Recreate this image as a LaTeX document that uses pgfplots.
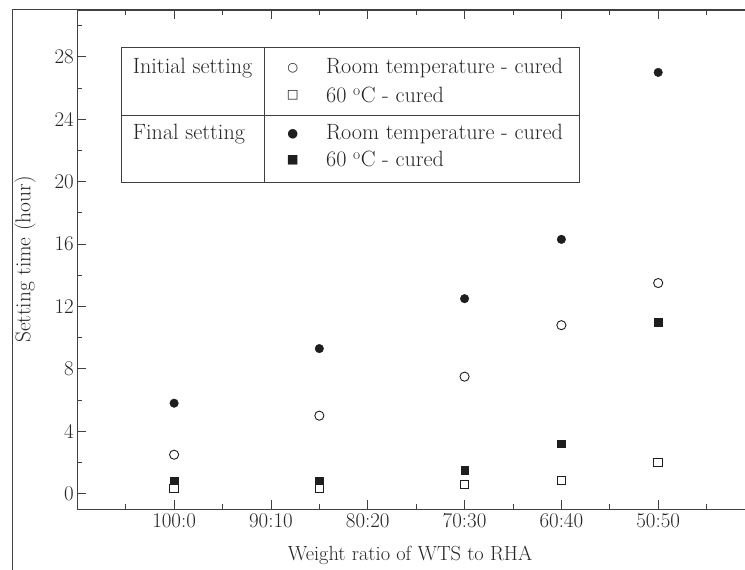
\documentclass[border=0pt]{standalone}
\usepackage{fontspec}
\usepackage{pgfplots}
\pgfplotsset{compat=1.18}
\newfontfamily\symfont{DejaVu Sans}
\definecolor{axisgray}{HTML}{404040}
\definecolor{textgray}{HTML}{262626}
\definecolor{markblack}{HTML}{1E1E1E}
\newcommand\lfont{\fontsize{22.2}{26}\selectfont}
\begin{document}
\begin{tikzpicture}
\useasboundingbox (0,0) rectangle (745bp,570bp);
\clip (0,0) rectangle (745bp,570bp);
\fill[white] (0,0) rectangle (745bp,570bp);
\draw[axisgray, line width=0.8pt] (12bp,0) -- (12bp,561bp) -- (745bp,561bp);
\begin{axis}[
  at={(77.3bp,60.7bp)}, anchor=south west,
  scale only axis, width=677.7bp, height=499.3bp,
  xmin=-10, xmax=60, ymin=-1, ymax=31,
  xtick={0,10,20,30,40,50},
  xticklabels={100:0,90:10,80:20,70:30,60:40,50:50},
  minor xtick={-5,5,15,25,35,45,55},
  ytick={0,4,...,28},
  minor ytick={2,6,...,30},
  major tick length=9bp, minor tick length=5bp,
  tick style={color=axisgray, line width=0.8pt},
  axis line style={color=axisgray, line width=0.9pt},
  /pgf/number format/assume math mode=true,
  ticklabel style={font=\fontsize{21}{24}\selectfont, text=textgray},
  xticklabel style={yshift=-1bp},
  xlabel={Weight ratio of WTS to RHA},
  ylabel={Setting time (hour)},
  xlabel style={at={(axis description cs:0.491,-0.0915)}, anchor=center, font=\fontsize{20.5}{24}\selectfont, text=textgray},
  ylabel style={at={(axis description cs:-0.0772,0.5)}, anchor=center, font=\fontsize{21.5}{24}\selectfont, text=textgray},
  clip=false,
]
\addplot[only marks, mark=*, mark size=4.3pt, color=markblack] coordinates {(0,5.8) (15,9.3) (30,12.5) (40,16.3) (50,27.0)};
\addplot[only marks, mark=o, mark size=4.6pt, color=markblack, mark options={fill=white, line width=0.9pt}] coordinates {(0,2.5) (15,5.0) (30,7.5) (40,10.8) (50,13.5)};
\addplot[only marks, mark=square*, mark size=3.7pt, color=markblack] coordinates {(0,0.82) (15,0.80) (30,1.5) (40,3.2) (50,11.0)};
\addplot[only marks, mark=square*, mark size=4.3pt, draw=markblack, fill=white, mark options={line width=0.9pt, draw=markblack, fill=white}] coordinates {(0,0.34) (15,0.35) (30,0.58) (40,0.85) (50,2.0)};
\end{axis}
% legend table
\draw[axisgray, line width=0.8pt] (121.5bp,388bp) rectangle (579bp,523bp);
\draw[axisgray, line width=0.8pt] (264.3bp,388bp) -- (264.3bp,523bp);
\draw[axisgray, line width=0.8pt] (121.5bp,455bp) -- (579bp,455bp);
\begin{scope}[every node/.style={inner sep=0, text=textgray, font=\lfont}]
\node[anchor=base west] at (132.7bp,496.7bp) {Initial setting};
\node[anchor=base west] at (132.7bp,430bp) {Final setting};
\node[anchor=base west] at (326bp,496.7bp) {Room temperature - cured};
\node[anchor=base west] at (326bp,467.3bp) {60 \textsuperscript{o}C - cured};
\node[anchor=base west] at (326bp,430bp) {Room temperature - cured};
\node[anchor=base west] at (326bp,403.3bp) {60 \textsuperscript{o}C - cured};
\node[anchor=center, font=\symfont\fontsize{12.5}{12}\selectfont, text=markblack] at (292.7bp,501.7bp) {○};
\node[anchor=center, font=\symfont\fontsize{12.5}{12}\selectfont, text=markblack] at (292.7bp,475bp) {□};
\node[anchor=center, font=\symfont\fontsize{12.5}{12}\selectfont, text=markblack] at (292.7bp,435.7bp) {●};
\node[anchor=center, font=\symfont\fontsize{12.5}{12}\selectfont, text=markblack] at (292.7bp,410bp) {■};
\end{scope}
\end{tikzpicture}
\end{document}
